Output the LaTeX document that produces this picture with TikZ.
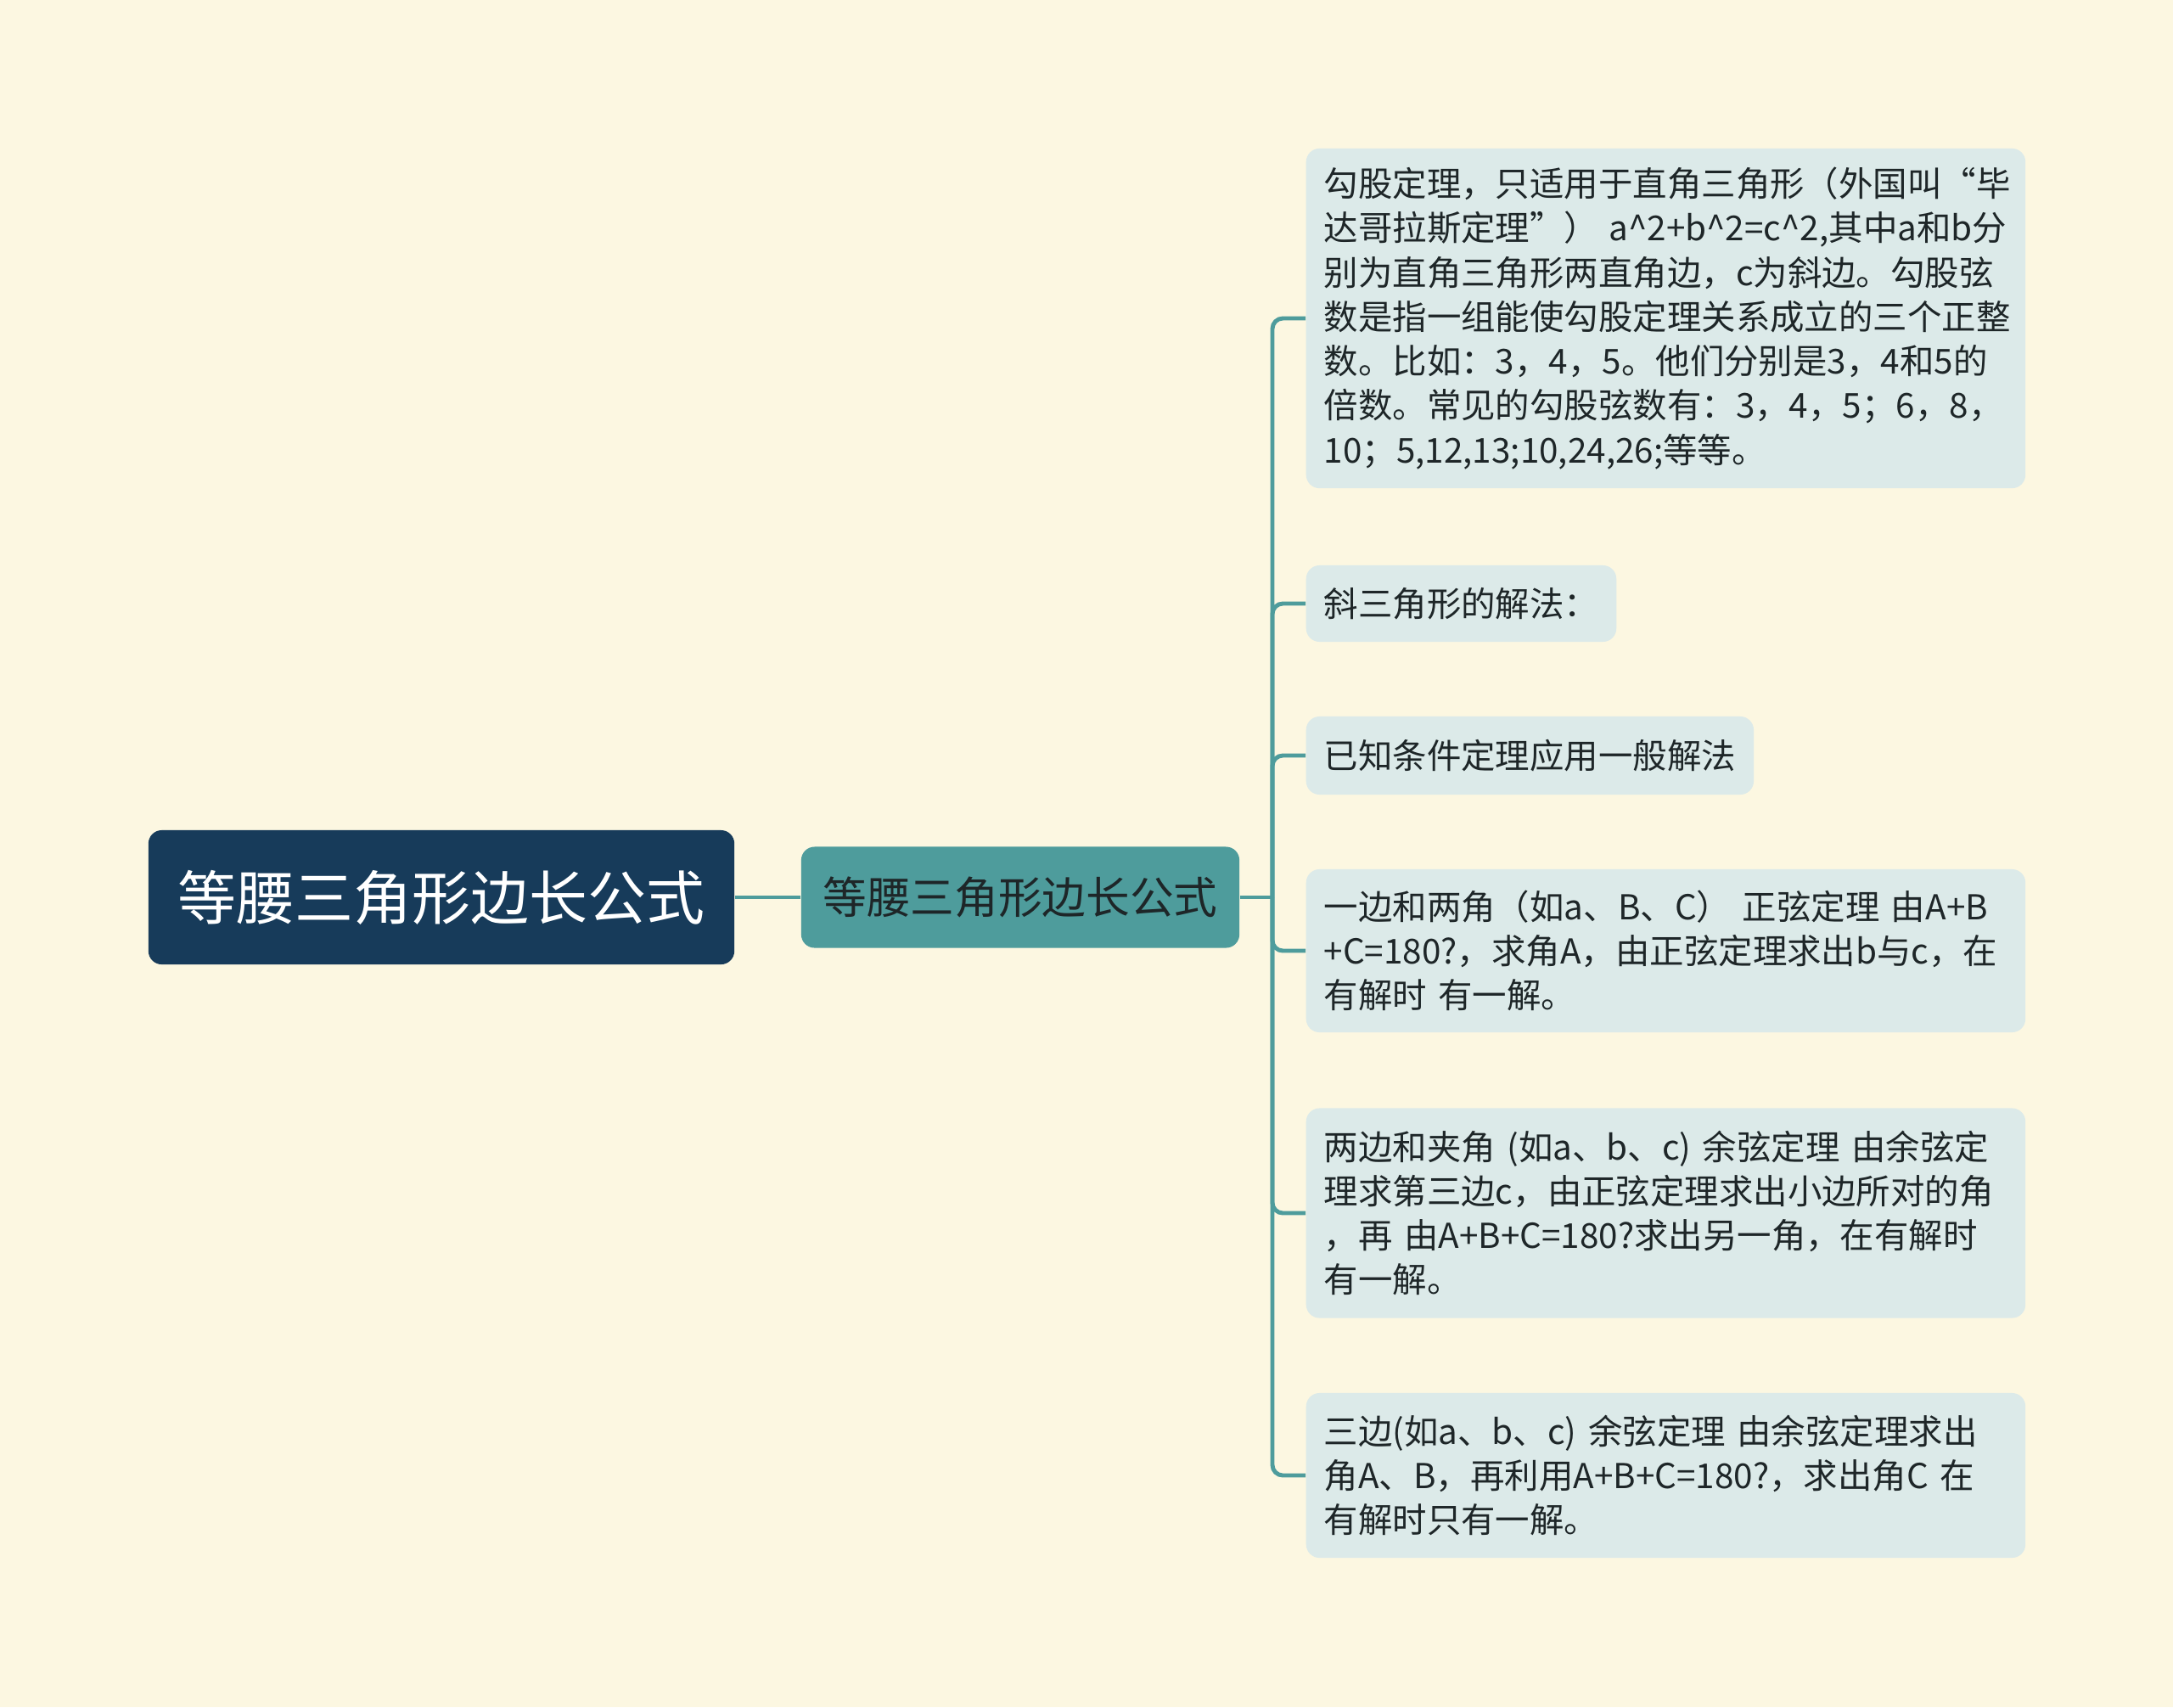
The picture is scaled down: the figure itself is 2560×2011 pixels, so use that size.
\documentclass[tikz,border=0pt]{standalone}
\usepackage{fontspec}
\setmainfont{Noto Sans CJK SC}
\usepackage{tikz}

\definecolor{bgcream}{RGB}{252,247,225}
\definecolor{rootnavy}{RGB}{23,59,90}
\definecolor{topicteal}{RGB}{78,156,156}
\definecolor{leafblue}{RGB}{220,234,233}
\definecolor{inkdark}{RGB}{30,38,40}

\begin{document}
\begin{tikzpicture}[x=0.01cm,y=-0.01cm,
    rootbox/.style={fill=rootnavy,text=white,rounded corners=4.5pt,minimum width=6.9cm,minimum height=1.58cm,font=\fontsize{19.6pt}{24pt}\selectfont},
    topicbox/.style={fill=topicteal,text=inkdark,rounded corners=4.5pt,minimum width=5.16cm,minimum height=1.19cm,font=\fontsize{14.7pt}{18pt}\selectfont},
    leafbox/.style={fill=leafblue,text=inkdark,rounded corners=4.5pt,anchor=west,inner xsep=0.21cm,align=left,font=\fontsize{11.5pt}{14.86pt}\selectfont},
    wideleaf/.style={leafbox,text width=8.05cm},
    branch/.style={topicteal,line width=1.4pt}]
  \fill[bgcream] (0,0) rectangle (2560,2011);
  % main nodes
  \node[rootbox] (root) at (520,1057) {等腰三角形边长公式};
  \node[topicbox] (topic) at (1202,1057) {等腰三角形边长公式};
  % leaves
  \node[wideleaf,minimum height=4.0cm] (l1) at (1538,375) {勾股定理，只适用于直角三角形（外国叫“毕\\\mbox{达哥拉斯定理”）\hspace{0.3em}a\textasciicircum2+b\textasciicircum2=c\textasciicircum2,其中a和b分}\\别为直角三角形两直角边，c为斜边。勾股弦\\数是指一组能使勾股定理关系成立的三个正整\\数。比如：3，4，5。他们分别是3，4和5的\\倍数。常见的勾股弦数有：3，4，5；6，8，\\10；5,12,13;10,24,26;等等。};
  \node[leafbox,minimum height=0.9cm] (l2) at (1538,711) {斜三角形的解法：};
  \node[leafbox,minimum height=0.92cm] (l3) at (1538,890) {已知条件定理应用一般解法};
  \node[wideleaf,minimum height=1.92cm] (l4) at (1538,1120) {一边和两角（如a、B、C） 正弦定理 由A+B\\+C=180?，求角A，由正弦定理求出b与c，在\\有解时 有一解。};
  \node[wideleaf,minimum height=2.47cm] (l5) at (1538,1429) {两边和夹角 (如a、b、c) 余弦定理 由余弦定\\理求第三边c，由正弦定理求出小边所对的角\\，再 由A+B+C=180?求出另一角，在有解时\\有一解。};
  \node[wideleaf,minimum height=1.94cm] (l6) at (1538,1738) {三边(如a、b、c) 余弦定理 由余弦定理求出\\角A、B，再利用A+B+C=180?，求出角C 在\\有解时只有一解。};
  % connectors
  \coordinate (trunk) at (1499,1057);
  \draw[branch] (root.east) -- (topic.west);
  \draw[branch] (topic.east) -- (trunk);
  \foreach \leaf in {l1,l2,l3,l4,l5,l6}
    \draw[branch,rounded corners=3.5pt] (trunk) |- (\leaf.west);
\end{tikzpicture}
\end{document}
